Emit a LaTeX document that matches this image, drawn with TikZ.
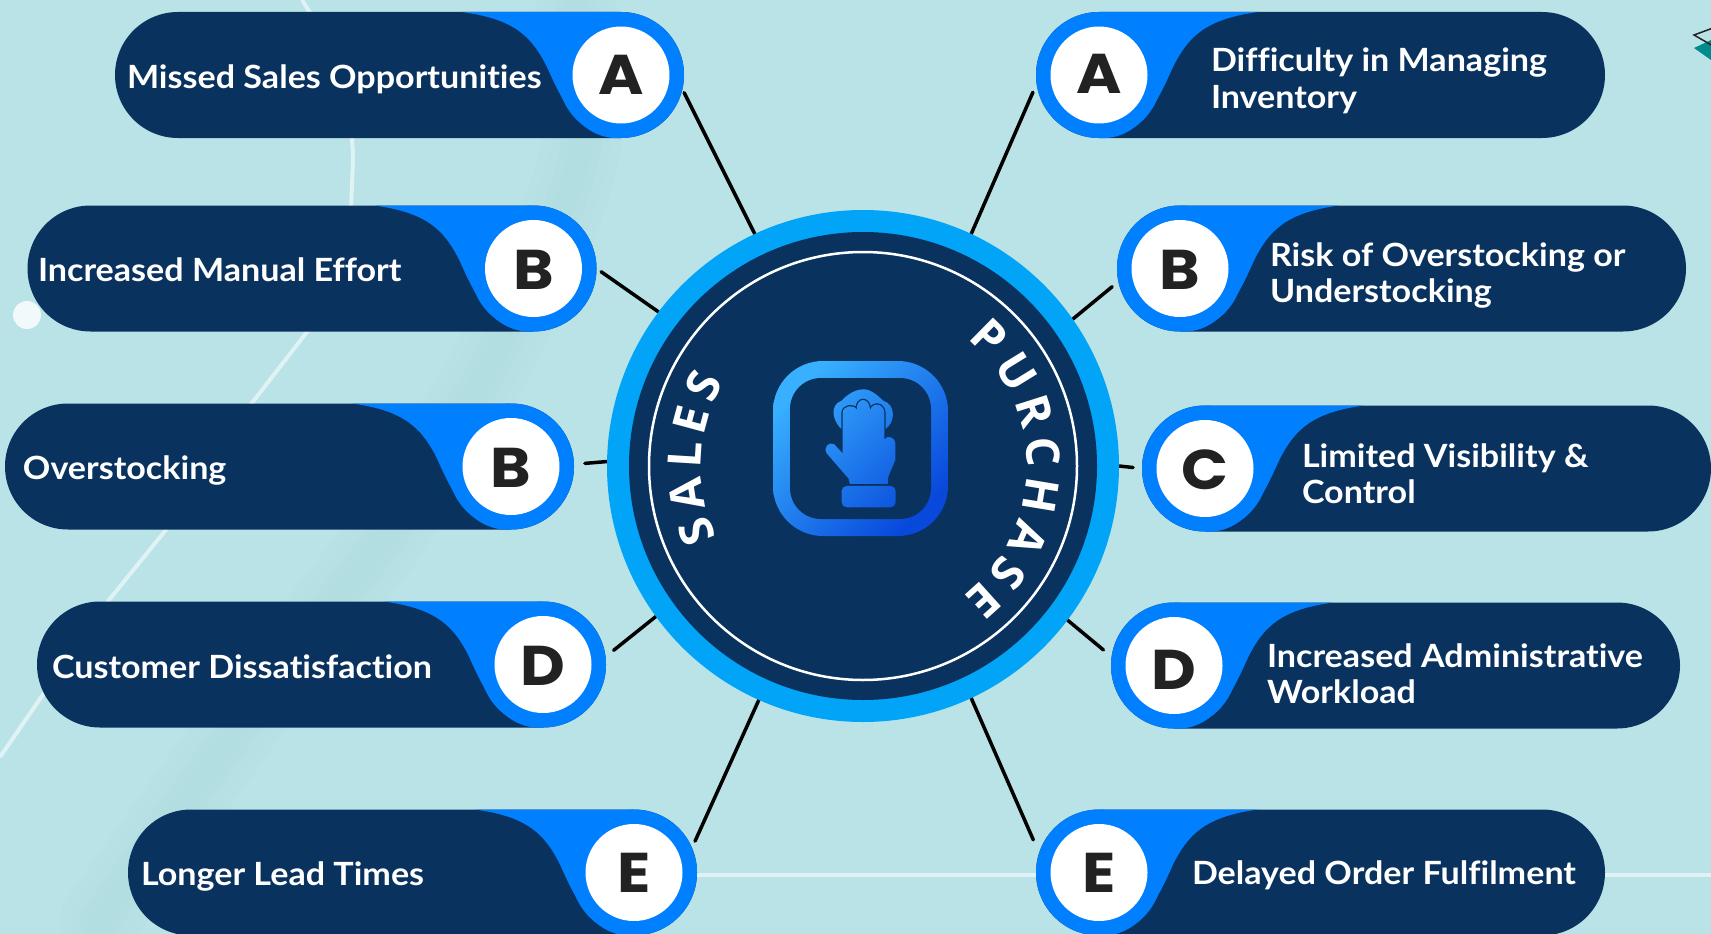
\documentclass[tikz,border=0pt]{standalone}
\usepackage{fontspec}
\setmainfont{Lato}[Ligatures=CommonOff,FakeStretch=1.065]
\newfontfamily\letterfamily{Poppins}[FakeStretch=1.1]
\newfontfamily\hubfamily{Open Sans}
\usetikzlibrary{decorations.text}
\definecolor{bgc}{HTML}{BAE3E7}
\definecolor{bandc}{HTML}{AAD6D8}
\definecolor{navy}{HTML}{0A325F}
\definecolor{blobblue}{HTML}{0080FF}
\definecolor{ringblue}{HTML}{02A4F8}
\definecolor{inkc}{HTML}{222222}
\definecolor{gradA}{HTML}{38B0FF}
\definecolor{gradB}{HTML}{0848DB}
\definecolor{tealc}{HTML}{008C8C}
\newcommand\pillfont{\fontsize{32}{36}\selectfont\bfseries}
\newcommand\letterfont{\letterfamily\fontsize{56}{56}\selectfont\bfseries}
\newcommand\hubfont{\hubfamily\fontsize{46}{46}\selectfont\bfseries\color{white}}
\tikzset{
  pillbox/.style={rectangle,rounded corners=63pt,fill=navy,minimum width=569pt,minimum height=126pt,inner sep=0pt,outer sep=0pt},
  bluedisc/.style={circle,fill=blobblue,minimum size=126pt,inner sep=0pt,outer sep=0pt},
  letterdisc/.style={circle,fill=white,minimum size=97pt,inner sep=0pt,outer sep=0pt,font=\letterfont,text=inkc,text height=39pt,text depth=0pt},
  pilltext/.style={anchor=base west,align=left,inner sep=0pt,outer sep=0pt,text=white,font=\pillfont},
  conn/.style={draw=black,line width=3.5pt,line cap=round},
  faintline/.style={draw=white,opacity=.55,line width=4pt},
  band/.style={draw=bandc,opacity=.09,line cap=round,line join=round},
  iconshade/.style={top color=gradA,bottom color=gradB,shading angle=45},
  hubdisc/.style={circle,inner sep=0pt,outer sep=0pt},
}
% #1 name, #2 cx, #3 cy, #4 direction, #5 letter, #6 pill centre x, #7 letter drop
\newcommand\blob[7]{%
  \node[pillbox] (p#1) at (#6,#3) {};
  \fill[blobblue,shift={(#2,#3)},xscale=#4] (-159,-63) -- (0,-63) -- (0,63) -- (-8,63)
     .. controls (-42,60) and (-58,28) .. (-74,-8)
     .. controls (-90,-40) and (-108,-56) .. (-159,-63) -- cycle;
  \node[bluedisc] (d#1) at (#2,#3) {};
  \node[letterdisc] (l#1) at (#2,#3) {\raisebox{-#7pt}[0pt][0pt]{#5}};
}
\begin{document}
\begin{tikzpicture}[x=1pt,y=-1pt]
\useasboundingbox (0,0) rectangle (1711,934);
\clip (0,0) rectangle (1711,934);
\fill[bgc] (0,0) rectangle (1711,934);
% faint background band
\foreach \w in {80,60,40,22}
  \draw[band,line width=\w pt] (575,0) .. controls (600,120) and (590,180) .. (478,387) -- (383,541) -- (249,712) -- (100,920);
% faint background lines
\draw[faintline] (302,0) .. controls (335,50) and (353,110) .. (353,160) -- (351,210);
\draw[faintline] (320,315) -- (252,403) -- (165,531) -- (109,600) -- (42,696) -- (0,757);
\fill[white,opacity=.8] (27,315) circle[radius=14];
\draw[faintline] (690,875) -- (1040,875);
\draw[faintline] (1600,875) -- (1711,875);
% corner marks
\fill[tealc] (1694,48) -- (1711,40) -- (1711,60) -- cycle;
\draw[inkc,line width=1.5pt] (1713,28) -- (1694,35) -- (1713,46);
% pills
\blob{LA}{621}{75}{1}{A}{399.5}{0}
\blob{LB}{533.5}{268.5}{1}{B}{312}{1}
\blob{LC}{511}{466.5}{1}{B}{289.5}{1}
\blob{LD}{543}{664.5}{1}{D}{321.5}{1}
\blob{LE}{634}{872.5}{1}{E}{412.5}{0}
\blob{RA}{1099}{75}{-1}{A}{1320.5}{-1}
\blob{RB}{1180}{268.5}{-1}{B}{1401.5}{1}
\blob{RC}{1205}{468.5}{-1}{C}{1426.5}{1}
\blob{RD}{1174}{665.5}{-1}{D}{1395.5}{4}
\blob{RE}{1099}{872.5}{-1}{E}{1320.5}{0}
% pill texts
\node[pilltext] (tLA) at (127,88.5) {Missed Sales Opportunities};
\node[pilltext] (tLB) at (38,281.5) {Increased Manual Effort};
\node[pilltext] (tLC) at (23,479) {Overstocking};
\node[pilltext] (tLD) at (52,678) {Customer Dissatisfaction};
\node[pilltext] (tLE) at (141,885.5) {Longer Lead Times};
\node[pilltext] (tRA) at (1211,108) {Difficulty in Managing\\Inventory};
\node[pilltext] (tRB) at (1270,302.5) {Risk of Overstocking or\\Understocking};
\node[pilltext] (tRC) at (1302,503.5) {Limited Visibility \&\\Control};
\node[pilltext] (tRD) at (1267,703.5) {Increased Administrative\\Workload};
\node[pilltext] (tRE) at (1192,884) {Delayed Order Fulfilment};
% hub outline used by the connectors
\node[hubdisc,minimum size=512pt] (hub) at (863,466) {};
% connectors
\draw[conn,shorten >=3.9pt] (hub.115.8) -- (dLA.-13.3);
\draw[conn,shorten >=5.6pt] (hub.143.4) -- (dLB.-0.2);
\draw[conn,shorten >=11pt] (hub.179.6) -- (dLC.2.3);
\draw[conn,shorten >=10.4pt] (hub.216.9) -- (dLD.7.8);
\draw[conn,shorten >=7.4pt] (hub.246) -- (dLE.23.2);
\draw[conn,shorten >=9.2pt] (hub.65.2) -- (dRA.188.8);
\draw[conn,shorten >=8pt] (hub.35.7) -- (dRB.192.6);
\draw[conn,shorten >=9pt] (hub.-0.7) -- (dRC.180);
\draw[conn,shorten >=10.6pt] (hub.-37.9) -- (dRD.172.5);
\draw[conn,shorten >=14.4pt] (hub.-65.8) -- (dRE.162.1);
% hub discs
\node[hubdisc,fill=ringblue,minimum size=512pt] (hubout) at (hub) {};
\node[hubdisc,fill=navy,minimum size=468pt] (hubin) at (hub) {};
\node[hubdisc,draw=white,line width=2.5pt,minimum size=428pt] (hubring) at (hub) {};
% curved labels
\begin{scope}[shift={(863,466)},x=1pt,y=1pt]
\path[decorate,decoration={text along path,text={|\hubfont|SALES},text align={fit to path}}]
  (206:162) arc[start angle=206,end angle=149,radius=162];
\path[decorate,decoration={text along path,text={|\hubfont|PURCHASE},text align={fit to path}}]
  (50.5:164) arc[start angle=50.5,end angle=-52.5,radius=164];
\end{scope}
% icon
\coordinate (icA) at (773,361);
\coordinate (icB) at (948,536);
\begin{scope}
  \clip[rounded corners=50pt] (773,361) rectangle (948,536);
  \shade[iconshade] (icA) rectangle (icB);
\end{scope}
\fill[navy,rounded corners=31pt] (790,378) rectangle (931,519);
\begin{scope}[shift={(750,340)},x=.3333pt,y=-.3333pt]
  \begin{scope}
    \clip (278,270) .. controls (250,250) and (235,195) .. (275,182)
       .. controls (290,165) and (315,148) .. (340,148)
       .. controls (365,148) and (380,165) .. (400,182)
       .. controls (440,195) and (435,250) .. (405,268) -- cycle;
    \shade[iconshade] (icA) rectangle (icB);
  \end{scope}
  \def\handpath{(300,432) -- (295,415) -- (230,340)
       .. controls (220,322) and (235,305) .. (252,312) -- (278,340) -- (278,218)
       .. controls (278,198) and (312,190) .. (320,210)
       .. controls (318,170) and (360,170) .. (360,210)
       .. controls (368,185) and (402,190) .. (403,218) -- (403,298)
       .. controls (412,285) and (436,290) .. (436,312) -- (436,360) -- (415,410) -- (413,432) -- cycle}
  \draw[navy,fill=navy,line width=2.5pt] \handpath;
  \begin{scope}
    \clip \handpath;
    \shade[iconshade] (icA) rectangle (icB);
  \end{scope}
  \begin{scope}
    \clip[rounded corners=5pt] (275,438) rectangle (437,502);
    \shade[iconshade] (icA) rectangle (icB);
  \end{scope}
\end{scope}
\end{tikzpicture}
\end{document}
